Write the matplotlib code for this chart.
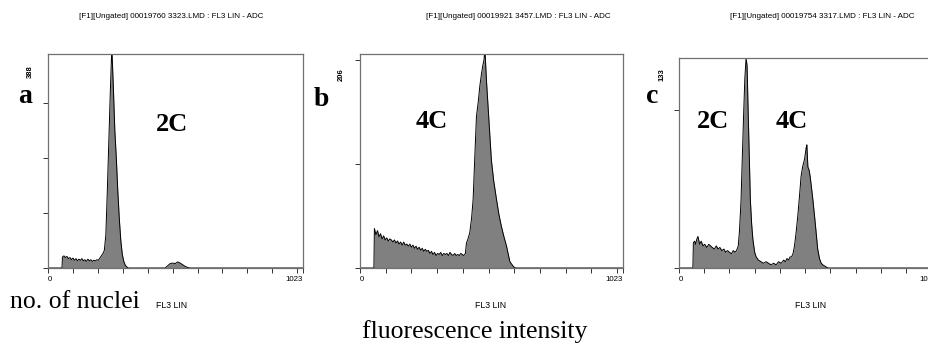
import matplotlib.pyplot as plt

W, H = 929, 351

titles = ['[F1][Ungated] 00019760 3323.LMD : FL3 LIN - ADC',
          '[F1][Ungated] 00019921 3457.LMD : FL3 LIN - ADC',
          '[F1][Ungated] 00019754 3317.LMD : FL3 LIN - ADC']
ymax = [388, 206, 133]
letters = ['a', 'b', 'c']

# channel / count readings for each histogram
a_ch = [0, 56, 58, 64, 70, 76, 82, 88, 94, 100, 106, 112, 118, 124, 130, 136, 142, 148, 154,
        160, 166, 172, 178, 184, 190, 196, 202, 208, 214, 220, 226, 232, 238, 244, 250, 256,
        262, 268, 274, 280, 286, 292, 298, 304, 310, 316, 322, 470, 480, 490, 500, 510, 520,
        530, 540, 550, 560, 570, 1023]
a_cnt = [0, 0, 20, 22, 19, 21, 17, 19, 15, 18, 14, 17, 13, 16, 14, 17, 13, 15, 12,
         16, 13, 15, 12, 14, 13, 15, 14, 18, 22, 26, 32, 60, 140, 230, 320, 400,
         330, 250, 200, 140, 90, 50, 25, 12, 5, 2, 0, 0, 4, 8, 9, 8, 11,
         9, 6, 3, 1, 0, 0]

b_ch = [0, 54, 56, 62, 68, 74, 80, 86, 92, 98, 104, 110, 116, 122, 128, 134, 140, 146, 152,
        158, 164, 170, 176, 182, 188, 194, 200, 206, 212, 218, 224, 230, 236, 242, 248, 254,
        260, 266, 272, 278, 284, 290, 296, 302, 308, 314, 320, 326, 332, 338, 344, 350, 356,
        362, 368, 374, 380, 386, 392, 398, 404, 410, 414, 420, 427, 434, 440, 447, 453, 460,
        466, 472, 477, 482, 486, 492, 499, 505, 511, 520, 531, 540, 550, 560, 570, 583, 598,
        606, 1023]
b_cnt = [0, 0, 38, 32, 36, 30, 33, 28, 31, 27, 29, 26, 28, 27, 25, 27, 24, 26, 23,
         25, 22, 25, 22, 23, 21, 23, 20, 22, 19, 21, 18, 20, 17, 19, 16, 18,
         16, 17, 14, 16, 13, 15, 12, 14, 13, 15, 12, 14, 13, 14, 12, 15, 13,
         12, 14, 12, 13, 12, 14, 13, 12, 14, 24, 28, 34, 48, 66, 110, 146, 160,
         175, 186, 194, 200, 210, 180, 152, 128, 104, 84, 66, 52, 40, 30, 21, 6, 1,
         0, 0]

c_ch = [0, 55, 57, 62, 66, 70, 75, 82, 88, 95, 102, 110, 118, 125, 132, 140, 148, 155, 162,
        170, 178, 185, 192, 200, 208, 215, 222, 228, 235, 240, 246, 251, 256, 261, 266, 270,
        273, 278, 283, 288, 293, 300, 306, 315, 325, 335, 345, 355, 365, 375, 385, 395, 405,
        415, 422, 428, 435, 440, 446, 452, 458, 464, 471, 478, 484, 490, 498, 504, 507, 511,
        516, 520, 526, 531, 538, 544, 550, 557, 564, 570, 580, 590, 1023]
c_cnt = [0, 0, 16, 17, 15, 18, 20, 15, 17, 14, 15, 13, 15, 14, 13, 12, 14, 12, 13,
         11, 12, 10, 11, 10, 9, 11, 10, 11, 14, 24, 43, 70, 96, 120, 133, 128,
         107, 75, 43, 28, 18, 10, 7, 5, 4, 3, 4, 3, 2, 3, 2, 4, 3,
         5, 4, 6, 5, 7, 7, 9, 14, 22, 33, 46, 58, 64, 69, 76, 78, 64,
         62, 58, 50, 43, 32, 22, 12, 6, 3, 2, 1, 0, 0]

chans = [a_ch, b_ch, c_ch]
counts = [a_cnt, b_cnt, c_cnt]

# panel boxes in pixels: left, top, right, bottom (panel c runs off the right edge, as in the source)
boxes = [(48, 54, 303, 268), (360, 54, 623, 268), (679, 58, 937, 268)]
title_x = [171, 518, 822]
letter_pos = [(25, 103), (321, 106), (652, 103)]
ylab_pos = [(30, 72), (341, 75), (662, 75)]
peak_labels = [[('2C', 172, 131)], [('4C', 432, 128)], [('2C', 713, 128), ('4C', 792, 128)]]
fl3_x = [172, 491, 811]

fig = plt.figure(figsize=(W / 100, H / 100), dpi=100)
serif = 'Liberation Serif'
sans = 'Liberation Sans'

for i in range(3):
    l, t, r, b = boxes[i]
    ax = fig.add_axes([l / W, 1 - b / H, (r - l) / W, (b - t) / H])
    ax.fill_between(chans[i], counts[i], color='#808080', lw=0)
    ax.plot(chans[i], counts[i], color='black', lw=0.7)
    ax.set_xlim(0, 1023)
    ax.set_ylim(0, ymax[i])
    for s in ax.spines.values():
        s.set_color('#707070')
        s.set_linewidth(0.9)
    ax.set_xticks(list(range(0, 1001, 100)) + [1023])
    xl = ['0'] + [''] * 10 + ['1023']
    ax.set_xticklabels(xl, fontsize=5.7, family=sans)
    ax.get_xticklabels()[-1].set_ha('right')
    ax.get_xticklabels()[0].set_ha('left')
    ax.set_yticks(range(0, ymax[i] + 1, 100))
    ax.set_yticklabels([])
    ax.tick_params(direction='out', length=3.5, width=0.7, color='#333333', pad=2)

    fig.text(title_x[i] / W, 1 - 17 / H, titles[i], fontsize=5.8, family=sans,
             ha='center', va='center')
    fig.text(letter_pos[i][0] / W, 1 - letter_pos[i][1] / H, letters[i], fontsize=20,
             family=serif, weight='bold', ha='center', va='baseline')
    fig.text(ylab_pos[i][0] / W, 1 - ylab_pos[i][1] / H, str(ymax[i]), fontsize=5.5,
             family=sans, weight='bold', rotation=90, ha='center', va='center')
    for txt, px, py in peak_labels[i]:
        fig.text(px / W, 1 - py / H, txt, fontsize=19, family=serif, weight='bold',
                 ha='center', va='baseline')
    fig.text(fl3_x[i] / W, 1 - 305 / H, 'FL3 LIN', fontsize=6.3, family=sans,
             ha='center', va='center')

fig.text(10 / W, 1 - 308 / H, 'no. of nuclei', fontsize=18.5, family=serif,
         ha='left', va='baseline')
fig.text(475 / W, 1 - 338 / H, 'fluorescence intensity', fontsize=18.5, family=serif,
         ha='center', va='baseline')

fig.savefig('out.png', dpi=100)
